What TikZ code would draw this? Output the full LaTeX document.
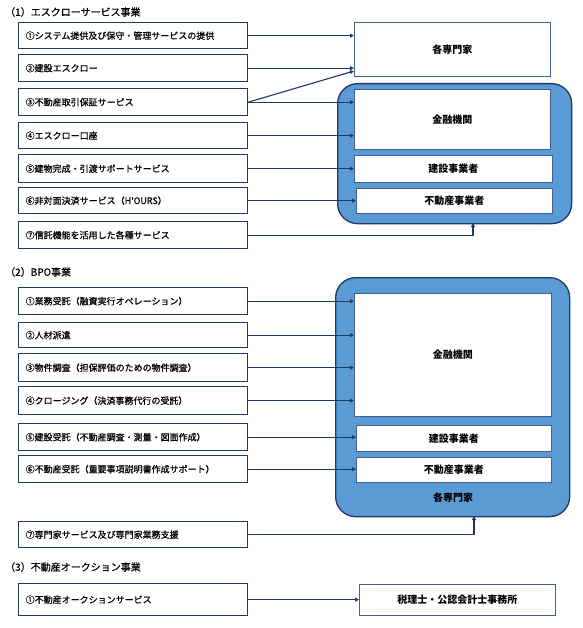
\documentclass[tikz,border=0pt]{standalone}
\usepackage{fontspec}
\setmainfont{Noto Sans CJK JP}
\newfontfamily\semibf[FakeBold=0.7]{Noto Sans CJK JP}
\usetikzlibrary{arrows.meta}
\definecolor{navy}{HTML}{1F3864}
\definecolor{fillblue}{HTML}{5B9BD5}
\definecolor{thinb}{HTML}{41618F}
\begin{document}
\begin{tikzpicture}[x=1pt,y=-1pt,
  svc/.style={draw=navy, line width=1.3pt, fill=white, anchor=north west,
    minimum width=229pt, text width=215pt, inner xsep=7pt, inner ysep=0pt,
    align=left, font=\fontsize{9}{11}\selectfont\semibf},
  tgt/.style={draw=thinb, line width=0.7pt, fill=white, anchor=north west,
    inner sep=0pt, font=\fontsize{10}{12}\selectfont\bfseries},
  grp/.style={draw=navy, line width=1.3pt, fill=fillblue, rounded corners=20pt,
    anchor=north west, inner sep=0pt},
  ttl/.style={anchor=west, inner sep=0pt, font=\fontsize{10}{12}\selectfont\semibf},
  arr/.style={draw=navy, line width=1.1pt, -{Triangle[length=4pt,width=4pt]}},
  ln/.style={draw=navy, line width=1.1pt}]
\useasboundingbox (0,0) rectangle (582,628);
\fill[white] (0,0) rectangle (582,628);

% ---------- section 1 ----------
\node[ttl] (t1) at (5,12) {（1）エスクローサービス事業};
\node[svc, minimum height=26pt] (a1) at (18,22) {①システム提供及び保守・管理サービスの提供};
\node[svc, minimum height=27pt] (a2) at (18,54) {②建設エスクロー};
\node[svc, minimum height=27pt] (a3) at (18,88) {③不動産取引保証サービス};
\node[svc, minimum height=26pt] (a4) at (18,122) {④エスクロー口座};
\node[svc, minimum height=28pt] (a5) at (18,154) {⑤建物完成・引渡サポートサービス};
\node[svc, minimum height=26pt] (a6) at (18,187) {⑥非対面決済サービス（H'OURS）};
\node[svc, minimum height=27pt] (a7) at (18,221) {⑦信託機能を活用した各種サービス};

\node[tgt, minimum width=196pt, minimum height=54pt] (e1) at (354,22) {各専門家};
\node[grp, minimum width=234pt, minimum height=140pt] (g1) at (337,83) {};
\node[tgt, minimum width=196pt, minimum height=60pt] (f1) at (354,89) {金融機関};
\node[tgt, minimum width=198pt, minimum height=27pt] (c1) at (354,155) {建設事業者};
\node[tgt, minimum width=196pt, minimum height=25pt] (r1) at (356,188) {不動産事業者};

\coordinate (e1d) at (354,71);
\coordinate (u1) at (473,223);
\draw[arr] (a1.east) -- (a1.east -| e1.west);
\draw[arr] (a2.east) -- (a2.east -| e1.west);
\draw[arr] (a3.east) -- (e1d);
\draw[arr] (a3.east) -- (a3.east -| f1.west);
\draw[arr] (a4.east) -- (a4.east -| f1.west);
\draw[arr] (a5.east) -- (a5.east -| c1.west);
\draw[arr] (a6.east) -- (a6.east -| r1.west);
\draw[arr] (a7.east) -| (u1);

% ---------- section 2 ----------
\node[ttl] (t2) at (5,272) {（2）BPO事業};
\node[svc, minimum height=27pt] (b1) at (18,287) {①業務受託（融資実行オペレーション）};
\node[svc, minimum height=25pt] (b2) at (18,322) {②人材派遣};
\node[svc, minimum height=28pt] (b3) at (18,353) {③物件調査（担保評価のための物件調査）};
\node[svc, minimum height=28pt] (b4) at (18,386) {④クロージング（決済事務代行の受託）};
\node[svc, minimum height=27pt] (b5) at (18,423) {⑤建設受託（不動産調査・測量・図面作成）};
\node[svc, minimum height=27pt] (b6) at (18,455) {⑥不動産受託（重要事項説明書作成サポート）};
\node[svc, minimum height=26pt] (b7) at (18,521) {⑦専門家サービス及び専門家業務支援};

\node[grp, minimum width=234pt, minimum height=239pt] (g2) at (335,277) {};
\node[tgt, minimum width=197pt, minimum height=123pt] (f2) at (354,293) {金融機関};
\node[tgt, minimum width=195pt, minimum height=26pt] (c2) at (356,425) {建設事業者};
\node[tgt, minimum width=195pt, minimum height=25pt] (r2) at (356,457) {不動産事業者};
\node[inner sep=0pt, font=\fontsize{10}{12}\selectfont\bfseries] (g2l) at (453,498) {各専門家};

\coordinate (u2) at (474,516);
\draw[arr] (b1.east) -- (b1.east -| f2.west);
\draw[arr] (b2.east) -- (b2.east -| f2.west);
\draw[arr] (b3.east) -- (b3.east -| f2.west);
\draw[arr] (b4.east) -- (b4.east -| f2.west);
\draw[arr] (b5.east) -- (b5.east -| c2.west);
\draw[arr] (b6.east) -- (b6.east -| r2.west);
\draw[arr] (b7.east) -| (u2);

% ---------- section 3 ----------
\node[ttl] (t3) at (5,567) {（3）不動産オークション事業};
\node[svc, minimum height=32pt] (d1) at (18,583) {①不動産オークションサービス};
\node[tgt, minimum width=196pt, minimum height=31pt] (x1) at (359,584) {税理士・公認会計士事務所};
\draw[arr] (d1.east) -- (d1.east -| x1.west);
\end{tikzpicture}
\end{document}
